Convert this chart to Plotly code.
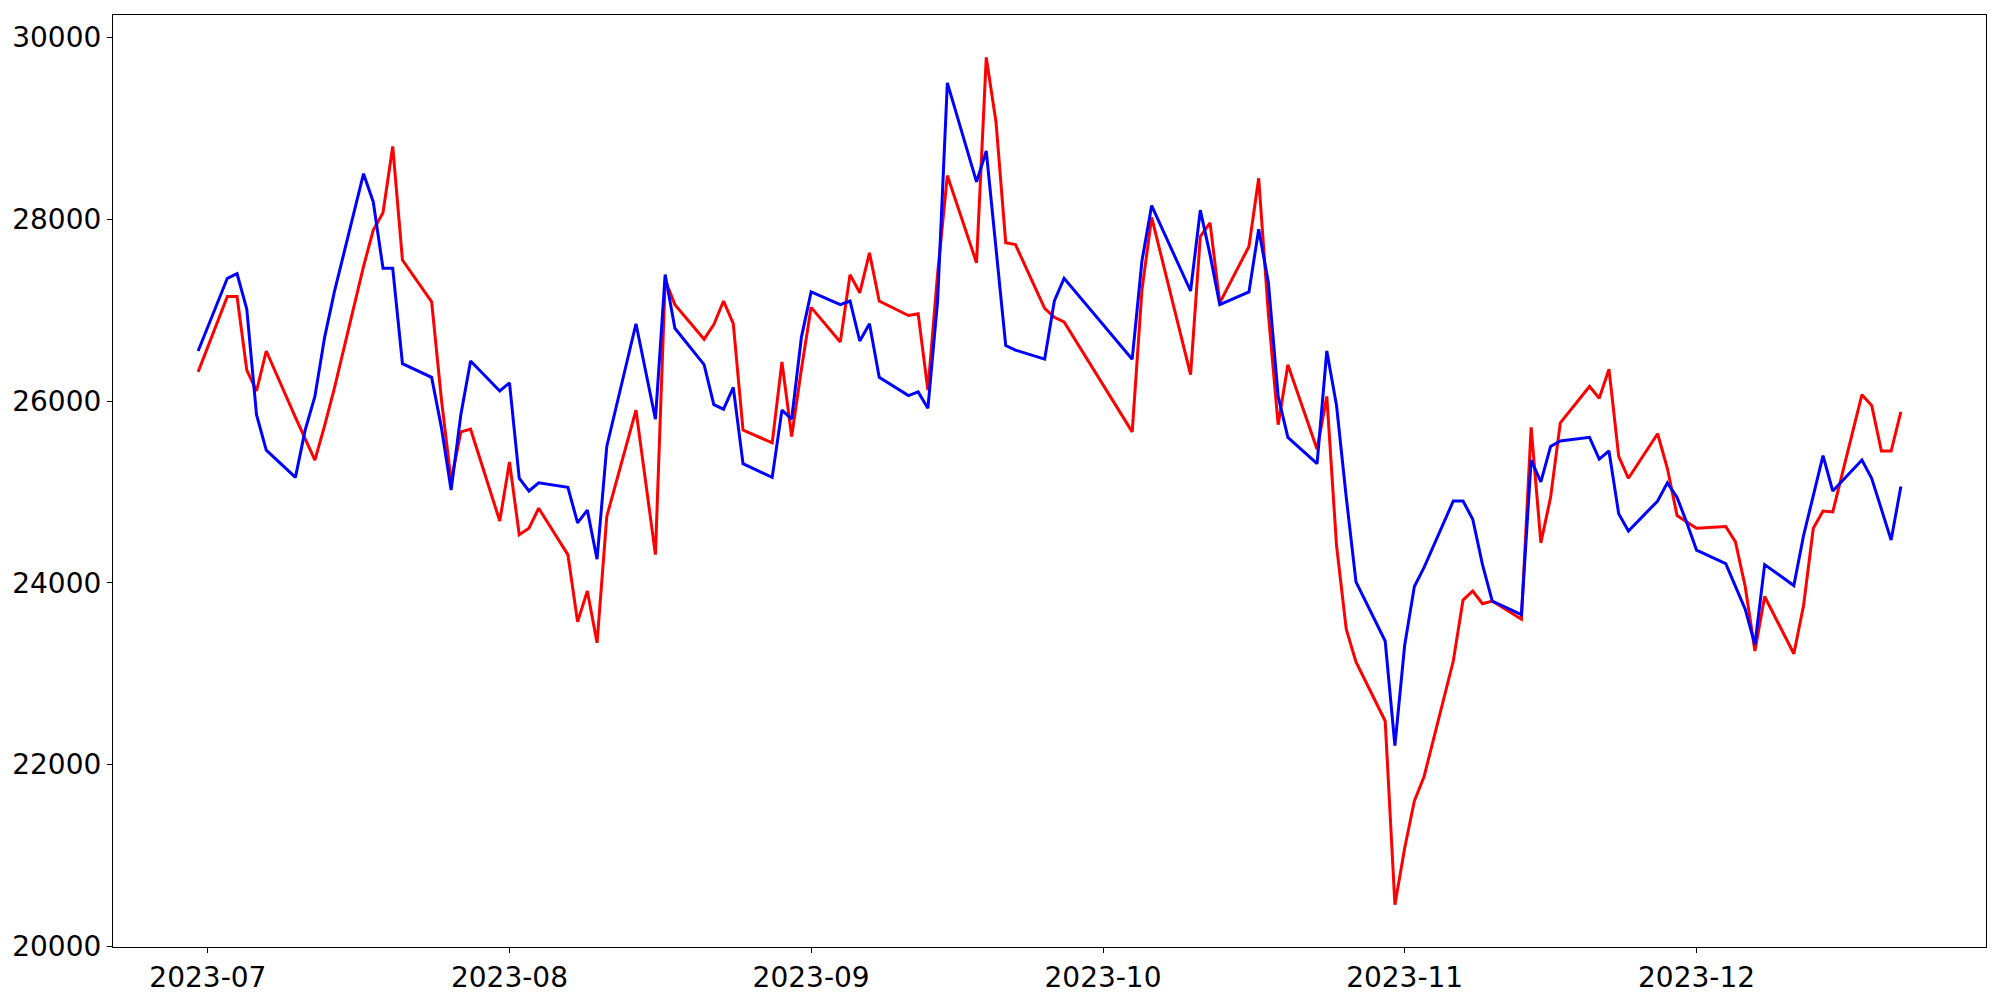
import pandas as pd
import plotly.graph_objects as go

# KRX trading days, 2023-06-30 .. 2023-12-22
dates = ["2023-06-30",
         "2023-07-03", "2023-07-04", "2023-07-05", "2023-07-06", "2023-07-07",
         "2023-07-10", "2023-07-11", "2023-07-12", "2023-07-13", "2023-07-14",
         "2023-07-17", "2023-07-18", "2023-07-19", "2023-07-20", "2023-07-21",
         "2023-07-24", "2023-07-25", "2023-07-26", "2023-07-27", "2023-07-28",
         "2023-07-31", "2023-08-01", "2023-08-02", "2023-08-03", "2023-08-04",
         "2023-08-07", "2023-08-08", "2023-08-09", "2023-08-10", "2023-08-11",
         "2023-08-14", "2023-08-16", "2023-08-17", "2023-08-18",
         "2023-08-21", "2023-08-22", "2023-08-23", "2023-08-24", "2023-08-25",
         "2023-08-28", "2023-08-29", "2023-08-30", "2023-08-31", "2023-09-01",
         "2023-09-04", "2023-09-05", "2023-09-06", "2023-09-07", "2023-09-08",
         "2023-09-11", "2023-09-12", "2023-09-13", "2023-09-14", "2023-09-15",
         "2023-09-18", "2023-09-19", "2023-09-20", "2023-09-21", "2023-09-22",
         "2023-09-25", "2023-09-26", "2023-09-27",
         "2023-10-04", "2023-10-05", "2023-10-06",
         "2023-10-10", "2023-10-11", "2023-10-12", "2023-10-13",
         "2023-10-16", "2023-10-17", "2023-10-18", "2023-10-19", "2023-10-20",
         "2023-10-23", "2023-10-24", "2023-10-25", "2023-10-26", "2023-10-27",
         "2023-10-30", "2023-10-31", "2023-11-01", "2023-11-02", "2023-11-03",
         "2023-11-06", "2023-11-07", "2023-11-08", "2023-11-09", "2023-11-10",
         "2023-11-13", "2023-11-14", "2023-11-15", "2023-11-16", "2023-11-17",
         "2023-11-20", "2023-11-21", "2023-11-22", "2023-11-23", "2023-11-24",
         "2023-11-27", "2023-11-28", "2023-11-29", "2023-11-30", "2023-12-01",
         "2023-12-04", "2023-12-05", "2023-12-06", "2023-12-07", "2023-12-08",
         "2023-12-11", "2023-12-12", "2023-12-13", "2023-12-14", "2023-12-15",
         "2023-12-18", "2023-12-19", "2023-12-20", "2023-12-21", "2023-12-22"]

red_values = [26320,
              27150, 27150, 26340, 26110, 26550,
              25820, 25590, 25350, 25730, 26140,
              27480, 27880, 28070, 28800, 27550,
              27090, 26020, 25120, 25660, 25690,
              24680, 25330, 24530, 24600, 24820,
              24310, 23570, 23910, 23340, 24730,
              25900, 24310, 27330, 27060,
              26680, 26840, 27100, 26850, 25680,
              25540, 26430, 25610, 26350, 27030,
              26650, 27390, 27190, 27630, 27100,
              26940, 26960, 26120, 27400, 28480,
              27520, 29780, 29070, 27740, 27720,
              27020, 26920, 26870,
              25660, 27220, 28020,
              26290, 27810, 27960, 27080,
              27700, 28450, 26950, 25740, 26400,
              25470, 26050, 24410, 23490, 23130,
              22480, 20460, 21080, 21600, 21870,
              23140, 23810, 23910, 23770, 23800,
              23600, 25710, 24440, 24940, 25760,
              26160, 26030, 26350, 25390, 25150,
              25640, 25260, 24740, 24670, 24600,
              24620, 24450, 23960, 23250, 23850,
              23220, 23750, 24600, 24790, 24780,
              26070, 25950, 25450, 25450, 25880]

blue_values = [26550,
               27350, 27400, 27010, 25850, 25460,
               25160, 25680, 26050, 26700, 27200,
               28500, 28190, 27460, 27460, 26410,
               26260, 25710, 25020, 25850, 26440,
               26110, 26200, 25150, 25010, 25100,
               25050, 24660, 24800, 24260, 25500,
               26850, 25800, 27390, 26800,
               26400, 25960, 25910, 26150, 25310,
               25160, 25900, 25800, 26700, 27200,
               27060, 27100, 26660, 26850, 26260,
               26060, 26100, 25920, 27100, 29500,
               28410, 28750, 27680, 26610, 26560,
               26460, 27100, 27350,
               26460, 27540, 28150,
               27210, 28100, 27610, 27060,
               27200, 27890, 27300, 26050, 25600,
               25310, 26550, 25950, 24940, 24010,
               23360, 22210, 23310, 23960, 24170,
               24900, 24900, 24700, 24200, 23800,
               23650, 25350, 25110, 25500, 25560,
               25600, 25360, 25450, 24760, 24570,
               24900, 25100, 24940, 24660, 24360,
               24210, 23960, 23710, 23320, 24200,
               23970, 24520, 24960, 25400, 25010,
               25350, 25150, 24800, 24470, 25060]

y_ticks = [20000, 22000, 24000, 26000, 28000, 30000]

x = pd.to_datetime(dates)
span = x[-1] - x[0]
x_range = [x[0] - 0.05 * span, x[-1] + 0.05 * span]

all_vals = red_values + blue_values
lo, hi = min(all_vals), max(all_vals)
y_range = [lo - 0.05 * (hi - lo), hi + 0.05 * (hi - lo)]

fig = go.Figure()
fig.add_trace(go.Scatter(x=x, y=red_values, mode="lines",
                         line=dict(color="red", width=3)))
fig.add_trace(go.Scatter(x=x, y=blue_values, mode="lines",
                         line=dict(color="blue", width=3)))

axis_style = dict(showgrid=False, zeroline=False, automargin=False,
                  showline=True, linecolor="black", linewidth=1.2,
                  mirror=True, ticks="outside", ticklen=5, tickwidth=1.2,
                  tickcolor="black",
                  tickfont=dict(family="DejaVu Sans", size=28, color="black"))

fig.update_layout(
    width=2000, height=1000,
    margin=dict(l=113, r=14, t=15, b=53),
    paper_bgcolor="white", plot_bgcolor="white",
    showlegend=False,
    xaxis=dict(type="date", range=x_range, tickformat="%Y-%m",
               dtick="M1", tick0="2023-07-01", **axis_style),
    yaxis=dict(range=y_range, tickvals=y_ticks,
               ticktext=[str(v) for v in y_ticks], **axis_style),
)

# drop the browser's default body margin so the figure sits at (0, 0)
fig.write_html("out.html",
               config={"displayModeBar": False},
               post_script="document.body.style.margin='0';"
                           "document.body.style.overflow='hidden';")
